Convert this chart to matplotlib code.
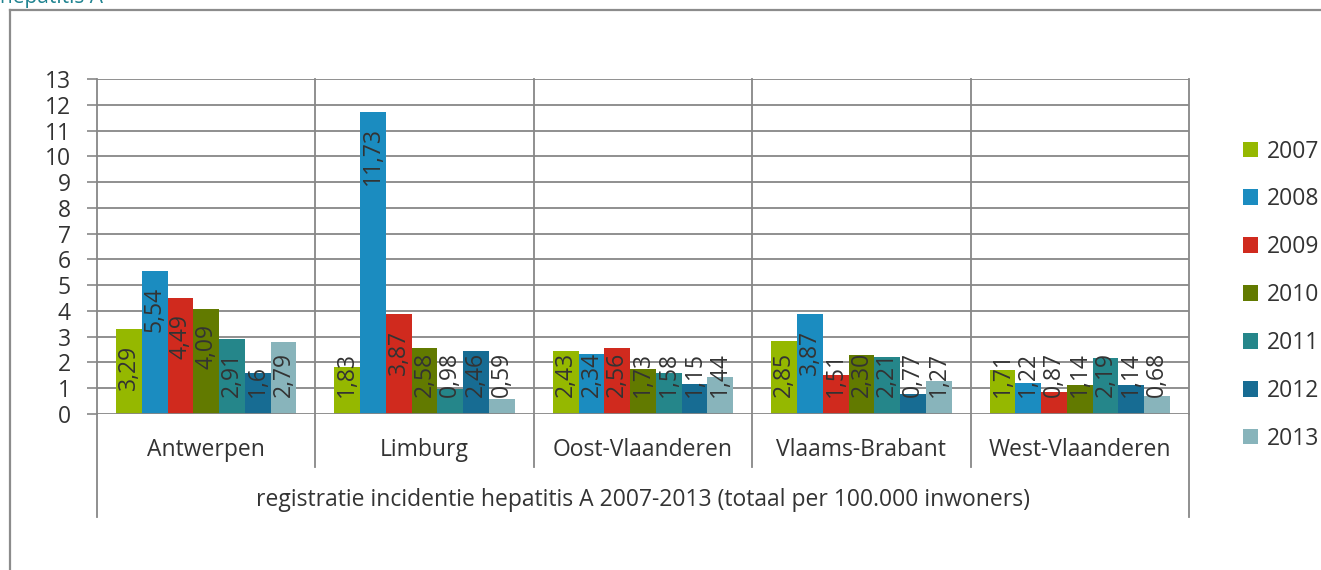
import numpy as np
import matplotlib
matplotlib.use('Agg')
import matplotlib.pyplot as plt
import matplotlib.transforms as mtransforms

plt.rcParams['font.family'] = ['Open Sans', 'DejaVu Sans']

provinces = ['Antwerpen', 'Limburg', 'Oost-Vlaanderen', 'Vlaams-Brabant', 'West-Vlaanderen']
years = ['2007', '2008', '2009', '2010', '2011', '2012', '2013']
# values per year, one entry per province (as printed on the chart)
v2007 = ['3,29', '1,83', '2,43', '2,85', '1,71']
v2008 = ['5,54', '11,73', '2,34', '3,87', '1,22']
v2009 = ['4,49', '3,87', '2,56', '1,51', '0,87']
v2010 = ['4,09', '2,58', '1,73', '2,30', '1,14']
v2011 = ['2,91', '0,98', '1,58', '2,21', '2,19']
v2012 = ['1,6', '2,46', '1,15', '0,77', '1,14']
v2013 = ['2,79', '0,59', '1,44', '1,27', '0,68']
series = [v2007, v2008, v2009, v2010, v2011, v2012, v2013]
colors = ['#95b800', '#1b8cc0', '#d02a1e', '#627a00', '#25868a', '#176c93', '#88b4bb']
axis_title = 'registratie incidentie hepatitis A 2007-2013 (totaal per 100.000 inwoners)'

W, H = 1321, 570
FS = 16.5
fig = plt.figure(figsize=(W / 100, H / 100), dpi=100)
ax = fig.add_axes([97 / W, 1 - 414 / H, (1189 - 97) / W, (414 - 79) / H])

grid = '#878787'
txt = '#333333'
x = np.arange(len(provinces))
bw = 0.826 / len(years)
labels = []
handles = []
for i, (yr, vals, c) in enumerate(zip(years, series, colors)):
    nums = [float(s.replace(',', '.')) for s in vals]
    pos = x - 0.413 + bw * (i + 0.5)
    b = ax.bar(pos, nums, width=bw, color=c, zorder=3, label=yr)
    handles.append(b)
    for px, v, s in zip(pos, nums, vals):
        t = ax.text(px, v, s, rotation=90, ha='center', va='top', fontsize=FS,
                    color=txt, zorder=4)
        labels.append((t, v))

ax.set_xlim(-0.5, len(provinces) - 0.5)
ax.set_ylim(0, 13)
ax.set_yticks(range(0, 14))
ax.set_xticks([])
ax.tick_params(axis='y', length=7, width=1.2, color=grid, pad=12, labelsize=FS,
               labelcolor=txt)
for yv in range(1, 14):
    ax.axhline(yv, color=grid, lw=1.3, zorder=1)
for sp in ['top', 'bottom']:
    ax.spines[sp].set_visible(False)
ax.axhline(0, color=grid, lw=1.3, zorder=5)
for sp in ['left', 'right']:
    ax.spines[sp].set_color(grid)
    ax.spines[sp].set_linewidth(1.3)

# category separators and the extended axis frame below the plot
trans = mtransforms.blended_transform_factory(ax.transData, ax.transAxes)
for xb in np.arange(0.5, len(provinces) - 1, 1.0):
    ax.plot([xb, xb], [-53 / 335, 1], color=grid, lw=1.3, transform=trans,
            clip_on=False, zorder=1)
for xb in [-0.5, len(provinces) - 0.5]:
    ax.plot([xb, xb], [-103 / 335, 0], color=grid, lw=1.3, transform=trans,
            clip_on=False, zorder=1)
for xi, p in zip(x, provinces):
    ax.text(xi, -36 / 335, p, transform=trans, ha='center', va='center',
            fontsize=FS, color=txt)
ax.text(0.5, -86 / 335, axis_title, transform=ax.transAxes, ha='center',
        va='center', fontsize=FS, color=txt)

ax.legend(handles=handles, loc='center left', bbox_to_anchor=(1222 / W, 1 - 295 / H),
          bbox_transform=fig.transFigure, frameon=False, fontsize=FS,
          handlelength=0.68, handleheight=0.68, handletextpad=0.4,
          labelspacing=1.04, labelcolor=txt)

# outer frame and the cut-off title
fig.add_artist(plt.Line2D([10 / W, 10 / W], [0, 1 - 10 / H], color='#8c8c8c', lw=1.6))
fig.add_artist(plt.Line2D([10 / W, 1], [1 - 10 / H, 1 - 10 / H], color='#8c8c8c', lw=1.6))
fig.text(0, 1 - 3 / H, 'hepatitis A', color='#1f8390', fontsize=15, ha='left',
         va='baseline')

# place data labels at the inside end of each bar, kept above the baseline
fig.canvas.draw()
r = fig.canvas.get_renderer()
px_unit = (414 - 79) / 13.0
for t, v in labels:
    h = t.get_window_extent(r).height / px_unit
    t.set_y(max(v - 0.6, 0.66 + h))

fig.savefig('out.png', dpi=100)
